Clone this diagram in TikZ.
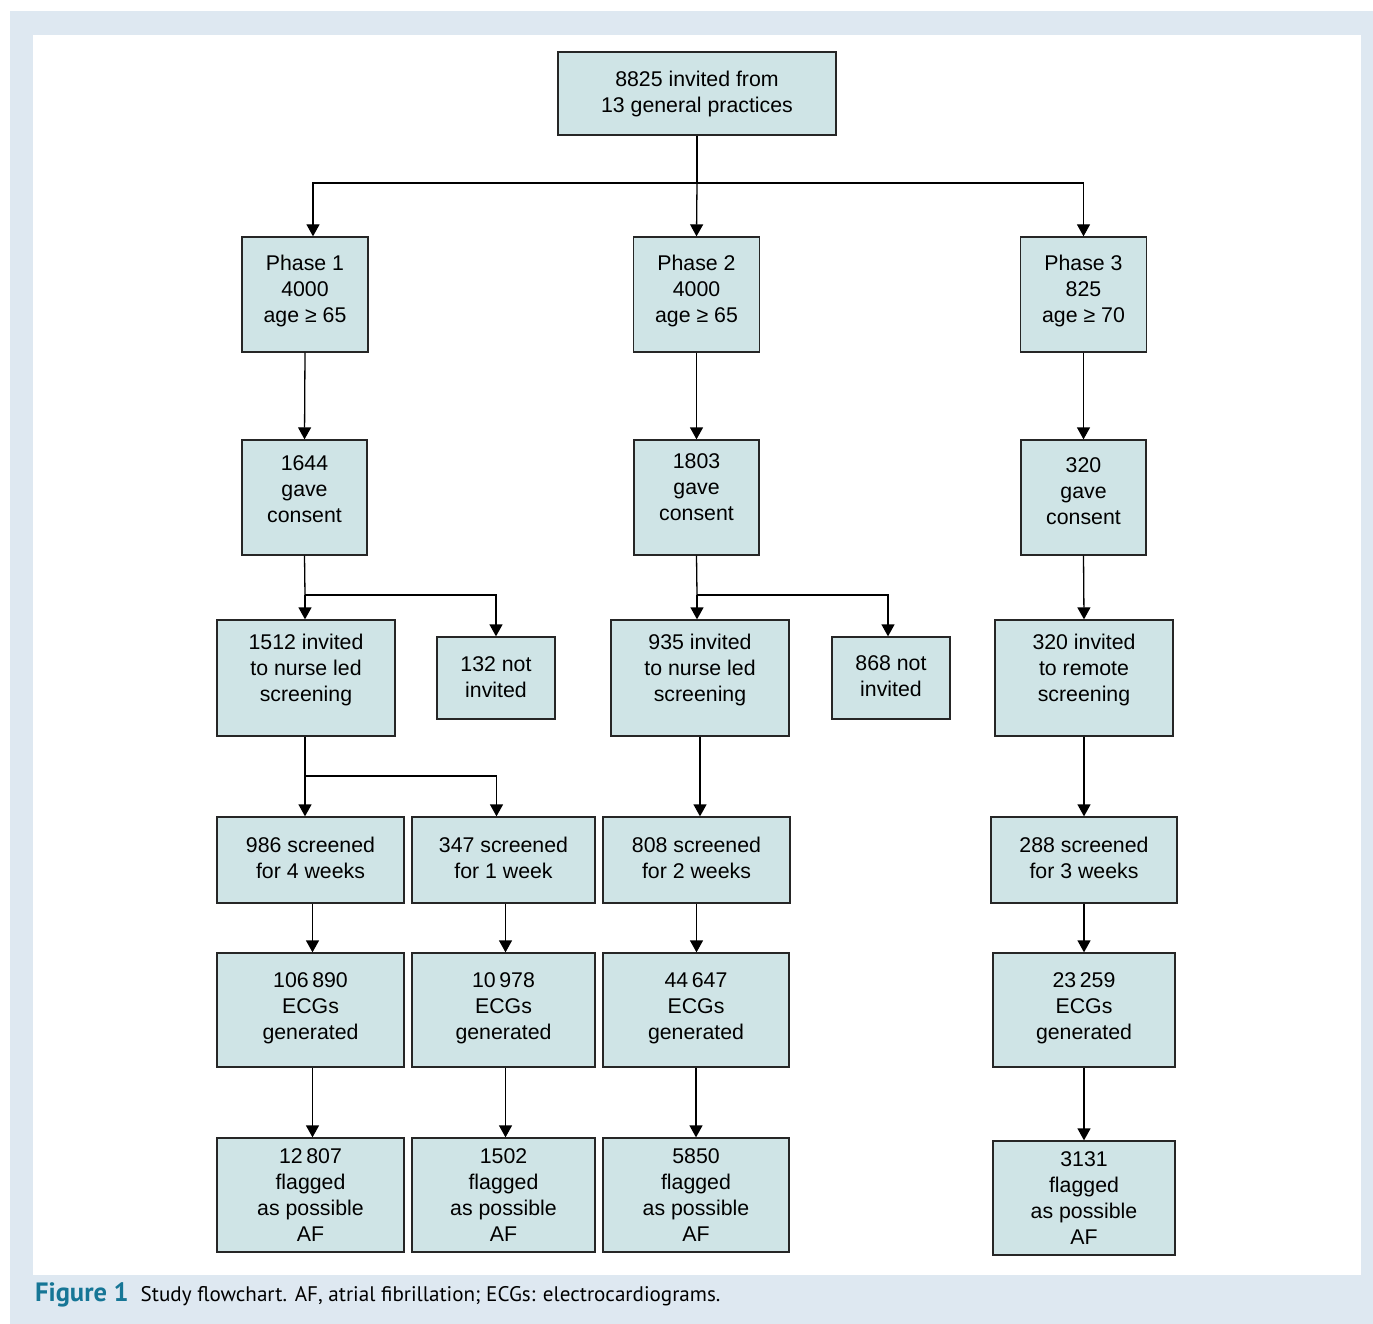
\documentclass[tikz,border=0pt]{standalone}
\usepackage{fontspec}
\setmainfont{Liberation Sans}
\newfontfamily\capfont{PT Sans}
\usetikzlibrary{arrows.meta}
\definecolor{framebg}{RGB}{222,232,241}
\definecolor{boxfill}{RGB}{207,228,230}
\definecolor{figteal}{RGB}{22,118,150}
\tikzset{
  flowbox/.style={draw=black!85, fill=boxfill, line width=1.3pt, inner sep=0pt},
  boxtext/.style={align=center, inner sep=0pt, font=\fontsize{21.3}{26}\selectfont},
  txt/.style 2 args={label={[boxtext, yshift=#1]center:{#2}}},
  arr/.style={line width=1.3pt, -{Triangle[width=13pt,length=12pt]}},
  link/.style={line width=1.3pt}
}

\begin{document}
\begin{tikzpicture}[x=1pt,y=-1pt]
  \useasboundingbox (0,0) rectangle (1373,1324);
  %%Frame
  \fill[framebg] (10,11) rectangle (1373,1324);
  \fill[white] (33,35) rectangle (1361,1275);
  %%Top
  \node[flowbox, minimum width=278pt, minimum height=83pt, txt={0pt}{8825 invited from\\13 general practices}] (top) at (697,93.5) {};
  %%Phases
  \node[flowbox, minimum width=126pt, minimum height=115pt, txt={4pt}{Phase 1\\4000\\age ≥ 65}] (p1) at (305,294.5) {};
  \node[flowbox, minimum width=126pt, minimum height=115pt, txt={4pt}{Phase 2\\4000\\age ≥ 65}] (p2) at (696.5,294.5) {};
  \node[flowbox, minimum width=126pt, minimum height=115pt, txt={4pt}{Phase 3\\825\\age ≥ 70}] (p3) at (1083.5,294.5) {};
  %%Consent
  \node[flowbox, minimum width=125pt, minimum height=115pt, txt={8pt}{1644\\gave\\consent}] (c1) at (304.5,497.5) {};
  \node[flowbox, minimum width=125pt, minimum height=115pt, txt={10pt}{1803\\gave\\consent}] (c2) at (696.5,497.5) {};
  \node[flowbox, minimum width=125pt, minimum height=115pt, txt={6pt}{320\\gave\\consent}] (c3) at (1083.5,497.5) {};
  %%Invited
  \node[flowbox, minimum width=178pt, minimum height=116pt, txt={8pt}{1512 invited\\to nurse led\\screening}] (i1) at (306,678) {};
  \node[flowbox, minimum width=118pt, minimum height=82pt, txt={1pt}{132 not\\invited}] (n1) at (496,678) {};
  \node[flowbox, minimum width=178pt, minimum height=116pt, txt={8pt}{935 invited\\to nurse led\\screening}] (i2) at (700,678) {};
  \node[flowbox, minimum width=118pt, minimum height=82pt, txt={2pt}{868 not\\invited}] (n2) at (891,678) {};
  \node[flowbox, minimum width=178pt, minimum height=116pt, txt={8pt}{320 invited\\to remote\\screening}] (i3) at (1084,678) {};
  %%Screened
  \node[flowbox, minimum width=187pt, minimum height=86pt, txt={2pt}{986 screened\\for 4 weeks}] (sc1) at (310.5,860) {};
  \node[flowbox, minimum width=183pt, minimum height=86pt, txt={2pt}{347 screened\\for 1 week}] (sc2) at (503.5,860) {};
  \node[flowbox, minimum width=187pt, minimum height=86pt, txt={2pt}{808 screened\\for 2 weeks}] (sc3) at (696.5,860) {};
  \node[flowbox, minimum width=186pt, minimum height=86pt, txt={2pt}{288 screened\\for 3 weeks}] (sc4) at (1084,860) {};
  %%ECGs
  \node[flowbox, minimum width=187pt, minimum height=114pt, txt={2pt}{106\,890\\ECGs\\generated}] (e1) at (310.5,1010) {};
  \node[flowbox, minimum width=183pt, minimum height=114pt, txt={2pt}{10\,978\\ECGs\\generated}] (e2) at (503.5,1010) {};
  \node[flowbox, minimum width=186pt, minimum height=114pt, txt={2pt}{44\,647\\ECGs\\generated}] (e3) at (696,1010) {};
  \node[flowbox, minimum width=182pt, minimum height=114pt, txt={2pt}{23\,259\\ECGs\\generated}] (e4) at (1084,1010) {};
  %%Flagged
  \node[flowbox, minimum width=187pt, minimum height=114pt, txt={0pt}{12\,807\\flagged\\as possible\\AF}] (f1) at (310.5,1195) {};
  \node[flowbox, minimum width=183pt, minimum height=114pt, txt={0pt}{1502\\flagged\\as possible\\AF}] (f2) at (503.5,1195) {};
  \node[flowbox, minimum width=186pt, minimum height=114pt, txt={0pt}{5850\\flagged\\as possible\\AF}] (f3) at (696,1195) {};
  \node[flowbox, minimum width=182pt, minimum height=114pt, txt={0pt}{3131\\flagged\\as possible\\AF}] (f4) at (1084,1198) {};
  %%Arrows
  \coordinate (s0) at (697,183);
  \draw[link] (top.south) -- (s0);
  \draw[arr] (s0) -- (p2.north);
  \draw[arr] (s0) -| ([xshift=8pt]p1.north);
  \draw[arr] (s0) -| (p3.north);
  \draw[arr] (p1.south) -- (c1.north);
  \draw[arr] (p2.south) -- (c2.north);
  \draw[arr] (p3.south) -- (c3.north);
  \coordinate (s1) at (305,595);
  \draw[link] (c1.south) -- (s1);
  \draw[arr] (s1) -- (s1 |- i1.north);
  \draw[arr] (s1) -| (n1.north);
  \coordinate (s2) at (697,595);
  \draw[link] (c2.south) -- (s2);
  \draw[arr] (s2) -- (s2 |- i2.north);
  \draw[arr] (s2) -| ([xshift=-3pt]n2.north);
  \draw[arr] (c3.south) -- (i3.north);
  \coordinate (s3) at (305,776);
  \draw[link] (s3 |- i1.south) -- (s3);
  \draw[arr] (s3) -- (s3 |- sc1.north);
  \draw[arr] (s3) -| ([xshift=-7pt]sc2.north);
  \draw[arr] (i2.south) -- (i2.south |- sc3.north);
  \draw[arr] (i3.south) -- (sc4.north);
  \draw[arr] ([xshift=2pt]sc1.south) -- ([xshift=2pt]e1.north);
  \draw[arr] ([xshift=2pt]sc2.south) -- ([xshift=2pt]e2.north);
  \draw[arr] (sc3.south) -- (sc3.south |- e3.north);
  \draw[arr] (sc4.south) -- (e4.north);
  \draw[arr] ([xshift=2pt]e1.south) -- ([xshift=2pt]f1.north);
  \draw[arr] ([xshift=2pt]e2.south) -- ([xshift=2pt]f2.north);
  \draw[arr] (e3.south) -- (f3.north);
  \draw[arr] (e4.south) -- (f4.north);
  %%Caption
  \node[anchor=base west, inner sep=0pt, font=\capfont\fontsize{21.1}{24}\selectfont] (cap) at (35,1301)
    {\textcolor{figteal}{\fontsize{26.5}{27}\selectfont\bfseries Figure 1}\hspace{12pt}Study flowchart. AF, atrial fibrillation; ECGs: electrocardiograms.};
\end{tikzpicture}
\end{document}
